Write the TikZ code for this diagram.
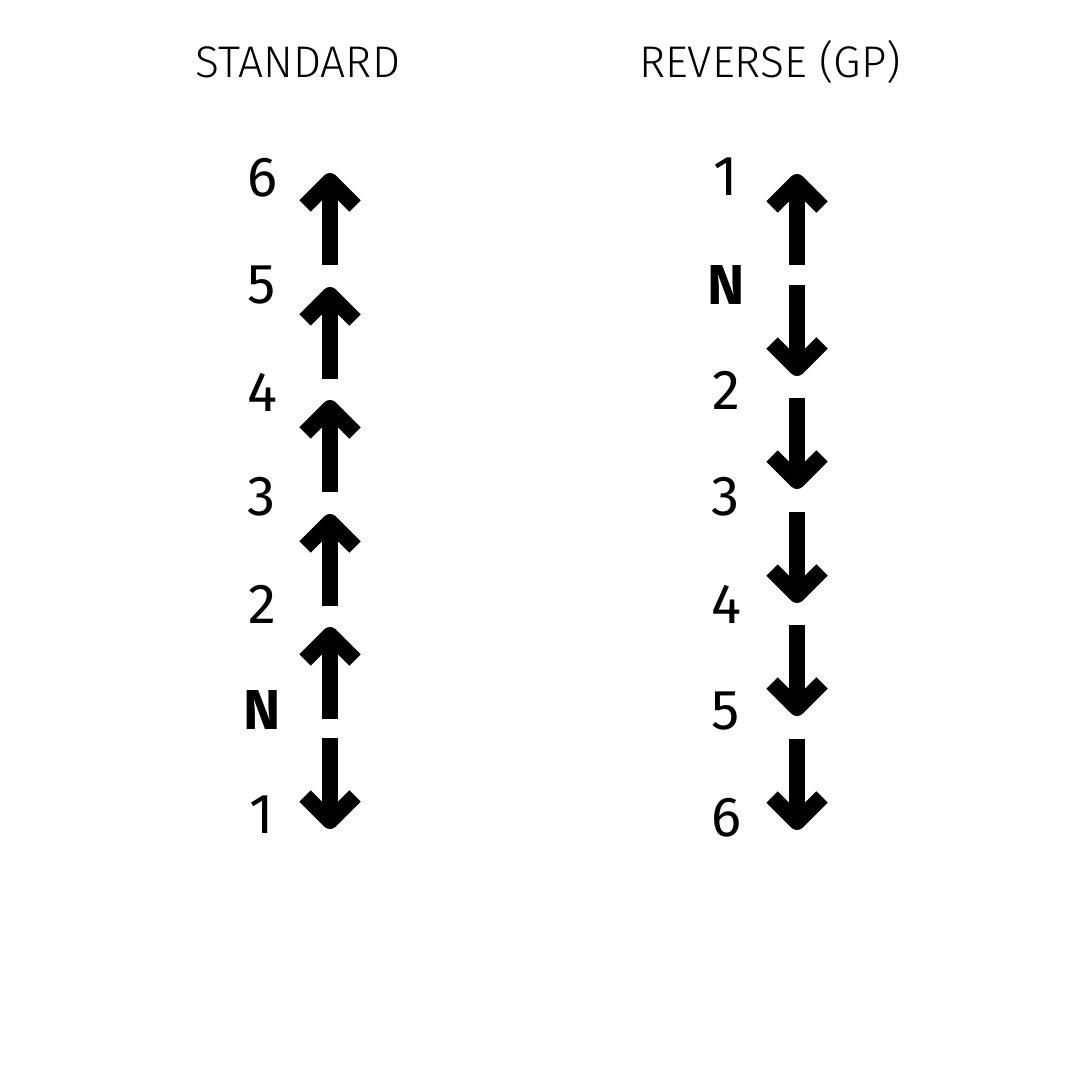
\documentclass[tikz,border=0pt]{standalone}
\usepackage{fontspec}
\setmainfont{Fira Sans}
\newfontfamily\lightfont{Fira Sans Light}
\tikzset{
  x=0.01cm,y=-0.01cm,
  gear/.style={font=\fontsize{16}{19}\selectfont},
  title/.style={font=\lightfont\fontsize{12.6}{15}\selectfont},
  shaft/.style={line width=0.16cm},
  chev/.style={line width=0.16cm,line join=round}
}
% \uparr{x}{tip}{bottom}, \downarr{x}{top}{tip}
\newcommand{\uparr}[3]{%
  \draw[shaft] (#1,#3) -- (#1,#2+12);
  \draw[chev] (#1-25,#2+36) -- (#1,#2+11) -- (#1+25,#2+36);}
\newcommand{\downarr}[3]{%
  \draw[shaft] (#1,#2) -- (#1,#3-12);
  \draw[chev] (#1-25,#3-36) -- (#1,#3-11) -- (#1+25,#3-36);}
\begin{document}
\begin{tikzpicture}
  \useasboundingbox (0,0) rectangle (1080,1080);
  \node[title] (std) at (298,62) {STANDARD};
  \node[title] (rev) at (770,62) {REVERSE (GP)};
  % standard
  \foreach \lab/\y in {6/178,5/285,4/392,3/497,2/604,1/815}
    \node[gear] (s\lab) at (262,\y) {\lab};
  \node[gear,font=\bfseries\fontsize{16}{19}\selectfont] (sN) at (262,710) {N};
  \foreach \t in {170,284,397,511,624}
    {\uparr{330}{\t}{\t+95}}
  \downarr{330}{738}{832}
  % reverse
  \foreach \lab/\y in {1/177,2/390,3/497,4/604,5/711,6/818}
    \node[gear] (r\lab) at (726,\y) {\lab};
  \node[gear,font=\bfseries\fontsize{16}{19}\selectfont] (rN) at (726,285) {N};
  \uparr{797}{171}{265}
  \foreach \t in {285,398,512,625,739}
    {\downarr{797}{\t}{\t+94}}
\end{tikzpicture}
\end{document}
